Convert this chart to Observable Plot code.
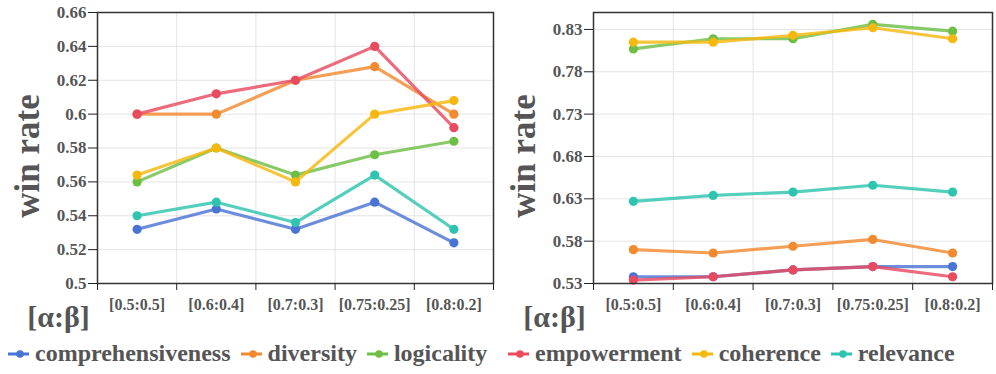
<!DOCTYPE html>
<html>
<head>
<meta charset="utf-8">
<script src="https://cdn.jsdelivr.net/npm/d3@7"></script>
<script src="https://cdn.jsdelivr.net/npm/@observablehq/plot@0.6"></script>
<style>
  html, body { margin: 0; padding: 0; background: #fff; }
  #wrap { position: relative; width: 996px; height: 374px; font-family: "Liberation Serif", "Times New Roman", serif; }
  .chart { position: absolute; top: 0; }
  .legend { position: absolute; top: 340px; display: flex; align-items: center; gap: 10px;
            font-family: "Liberation Serif", "Times New Roman", serif; font-weight: bold; font-size: 24px; color: #555; }
  .item { display: flex; align-items: center; gap: 6px; white-space: nowrap; }
</style>
</head>
<body>
<div id="wrap"></div>
<script>
const categories = ["[0.5:0.5]", "[0.6:0.4]", "[0.7:0.3]", "[0.75:0.25]", "[0.8:0.2]"];
const seriesNames = ["comprehensiveness", "diversity", "logicality", "empowerment", "coherence", "relevance"];
const seriesColors = ["#4a74d4", "#f28a30", "#6dbe45", "#e84a5f", "#f6b80f", "#2ec4b0"];

// Left panel
const leftComprehensiveness = [0.532, 0.544, 0.532, 0.548, 0.524];
const leftDiversity        = [0.600, 0.600, 0.620, 0.628, 0.600];
const leftLogicality       = [0.560, 0.580, 0.564, 0.576, 0.584];
const leftEmpowerment      = [0.600, 0.612, 0.620, 0.640, 0.592];
const leftCoherence        = [0.564, 0.580, 0.560, 0.600, 0.608];
const leftRelevance        = [0.540, 0.548, 0.536, 0.564, 0.532];
const leftTicks = [0.5, 0.52, 0.54, 0.56, 0.58, 0.6, 0.62, 0.64, 0.66];

// Right panel
const rightComprehensiveness = [0.538, 0.538, 0.546, 0.550, 0.550];
const rightDiversity        = [0.570, 0.566, 0.574, 0.582, 0.566];
const rightLogicality       = [0.807, 0.819, 0.819, 0.836, 0.828];
const rightEmpowerment      = [0.534, 0.538, 0.546, 0.550, 0.538];
const rightCoherence        = [0.815, 0.815, 0.823, 0.832, 0.819];
const rightRelevance        = [0.627, 0.634, 0.638, 0.646, 0.638];
const rightTicks = [0.53, 0.58, 0.63, 0.68, 0.73, 0.78, 0.83];

const leftSeries = [leftComprehensiveness, leftDiversity, leftLogicality, leftEmpowerment, leftCoherence, leftRelevance];
const rightSeries = [rightComprehensiveness, rightDiversity, rightLogicality, rightEmpowerment, rightCoherence, rightRelevance];

const fmt = d => String(+d.toFixed(2));
const textColor = "#555";

function makeChart(seriesValues, yDomain, yTicks, width, marginRight) {
  const marks = [
    Plot.gridY(yTicks, {stroke: "#e4e4e4", strokeOpacity: 1}),
    Plot.gridX([1, 2, 3, 4], {stroke: "#e4e4e4", strokeOpacity: 1}),
  ];
  seriesValues.forEach((vals, si) => {
    const rows = vals.map((v, i) => ({xi: i + 0.5, v, s: seriesNames[si]}));
    marks.push(Plot.line(rows, {x: "xi", y: "v", stroke: seriesColors[si], strokeWidth: 3.2, strokeOpacity: 0.82}));
    marks.push(Plot.dot(rows, {x: "xi", y: "v", fill: seriesColors[si], r: 4.6}));
  });
  marks.push(
    Plot.frame({stroke: "#333", strokeWidth: 1.5}),
    Plot.axisY(yTicks, {tickSize: 9, tickPadding: 2, fontSize: 17, fontWeight: "bold", fill: textColor, stroke: "#222", tickFormat: fmt, label: null}),
    Plot.axisX([0, 1, 2, 3, 4, 5], {tickSize: 7, stroke: "#222", tickFormat: () => "", label: null}),
    Plot.text(categories, {x: (d, i) => i + 0.5, frameAnchor: "bottom", dy: 21, fontSize: 16, fontWeight: "bold", fill: textColor, textAnchor: "middle", lineAnchor: "middle"}),
    Plot.text(["win rate"], {frameAnchor: "left", dx: -70, dy: 8, rotate: -90, fontSize: 35, fontWeight: "bold", fill: textColor, textAnchor: "middle", lineAnchor: "middle"}),
    Plot.text(["[α:β]"], {frameAnchor: "bottom-left", dx: -39, dy: 34, fontSize: 30, fontWeight: "bold", fill: textColor, textAnchor: "middle", lineAnchor: "middle"})
  );
  return Plot.plot({
    width, height: 335,
    marginLeft: 97, marginRight, marginTop: 12, marginBottom: 52,
    x: {type: "linear", domain: [0, 5], axis: null},
    y: {domain: yDomain, axis: null},
    style: {fontFamily: "'Liberation Serif', 'Times New Roman', serif", background: "transparent", overflow: "visible"},
    marks
  });
}

const wrap = document.getElementById("wrap");
const left = makeChart(leftSeries, [0.5, 0.66], leftTicks, 500, 7);
left.classList.add("chart"); left.style.left = "0px";
wrap.appendChild(left);
const right = makeChart(rightSeries, [0.53, 0.85], rightTicks, 500, 4);
right.classList.add("chart"); right.style.left = "496px";
wrap.appendChild(right);

function legend(indices, x) {
  const div = document.createElement("div");
  div.className = "legend";
  div.style.left = x + "px";
  indices.forEach(i => {
    const item = document.createElement("div");
    item.className = "item";
    const c = seriesColors[i];
    item.innerHTML = `<svg width="21" height="12"><line x1="0" y1="6" x2="21" y2="6" stroke="${c}" stroke-width="3"/><circle cx="12" cy="6" r="3.8" fill="${c}"/></svg><span>${seriesNames[i]}</span>`;
    div.appendChild(item);
  });
  wrap.appendChild(div);
}
legend([0, 1, 2], 8);
legend([3, 4, 5], 508);
</script>
</body>
</html>
